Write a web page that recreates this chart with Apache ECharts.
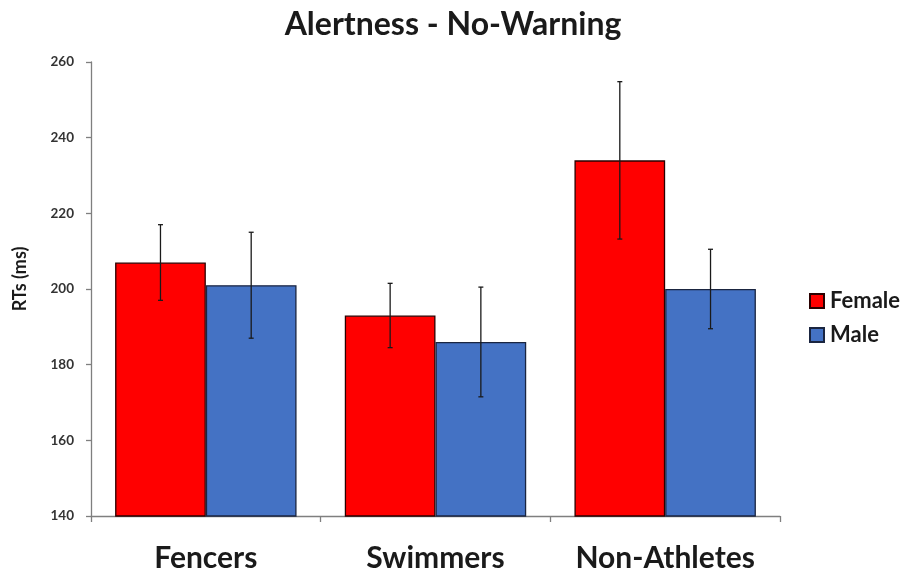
<!DOCTYPE html>
<html>
<head>
<meta charset="utf-8">
<script src="https://cdn.jsdelivr.net/npm/echarts@6/dist/echarts.min.js"></script>
<style>
  html, body { margin: 0; padding: 0; background: #fff; }
  #chart { width: 906px; height: 576px; }
</style>
</head>
<body>
<div id="chart"></div>
<script>
// Group names and mean reaction times with their error margins
const groups = ['Fencers', 'Swimmers', 'Non-Athletes'];
const femaleMeans = [207, 193, 234];
const femaleErrors = [10, 8.5, 20.8];
const maleMeans = [201, 186, 200];
const maleErrors = [14, 14.5, 10.5];
const yTicks = [140, 160, 180, 200, 220, 240, 260];

const FONT = 'Lato';
const BAR_FRACTION = 0.395;

// Error bar drawn over each bar; offset -1 for the left bar, +1 for the right
function errorBarRenderer(offsetSign) {
  return function (params, api) {
    const idx = api.value(0);
    const mean = api.value(1);
    const err = api.value(2);
    const band = api.size([1, 0])[0];
    const bw = band * BAR_FRACTION;
    const center = api.coord([idx, mean]);
    const x = center[0] + offsetSign * bw / 2;
    const top = api.coord([idx, mean + err])[1];
    const bottom = api.coord([idx, mean - err])[1];
    const cap = 2.5;
    const style = { stroke: '#1a1a1a', lineWidth: 1.3 };
    return {
      type: 'group',
      children: [
        { type: 'line', shape: { x1: x, y1: top, x2: x, y2: bottom }, style },
        { type: 'line', shape: { x1: x - cap, y1: top, x2: x + cap, y2: top }, style },
        { type: 'line', shape: { x1: x - cap, y1: bottom, x2: x + cap, y2: bottom }, style }
      ]
    };
  };
}

const chart = echarts.init(document.getElementById('chart'), null, { renderer: 'canvas' });

chart.setOption({
  animation: false,
  backgroundColor: '#ffffff',
  title: {
    text: 'Alertness - No-Warning',
    left: 'center',
    top: 4,
    textStyle: { fontFamily: FONT, fontWeight: 'bold', fontSize: 32, color: '#1a1a1a' }
  },
  legend: {
    orient: 'vertical',
    left: 804,
    top: 285,
    itemGap: 12,
    itemWidth: 14,
    itemHeight: 14,
    icon: 'rect',
    data: ['Female', 'Male'],
    textStyle: { fontFamily: FONT, fontWeight: 'bold', fontSize: 22, color: '#1a1a1a', padding: [0, 0, 0, 1] }
  },
  grid: { left: 91, right: 126, top: 62, bottom: 60 },
  xAxis: {
    type: 'category',
    data: groups,
    axisLine: { lineStyle: { color: '#7f7f7f', width: 1.3 } },
    axisTick: { show: true, interval: 0, length: 6, lineStyle: { color: '#7f7f7f', width: 1.3 } },
    axisLabel: { interval: 0, fontFamily: FONT, fontWeight: 'bold', fontSize: 30, color: '#1a1a1a', margin: 27 }
  },
  yAxis: {
    type: 'value',
    min: yTicks[0],
    max: yTicks[yTicks.length - 1],
    interval: 20,
    name: 'RTs (ms)',
    nameLocation: 'middle',
    nameGap: 62,
    nameTextStyle: { fontFamily: FONT, fontWeight: 'bold', fontSize: 18, color: '#1a1a1a', padding: [0, 0, 0, 20] },
    axisLine: { show: true, lineStyle: { color: '#7f7f7f', width: 1.3 } },
    axisTick: { show: true, length: 5, lineStyle: { color: '#7f7f7f', width: 1.3 } },
    axisLabel: { fontFamily: FONT, fontWeight: 'bold', fontSize: 13.5, color: '#333', margin: 17 },
    splitLine: { show: false }
  },
  series: [
    {
      name: 'Female',
      type: 'bar',
      data: femaleMeans,
      barWidth: (BAR_FRACTION * 100) + '%',
      barGap: '0%',
      itemStyle: { color: '#ff0000', borderColor: '#2a0000', borderWidth: 1.3 }
    },
    {
      name: 'Male',
      type: 'bar',
      data: maleMeans,
      barWidth: (BAR_FRACTION * 100) + '%',
      barGap: '0%',
      itemStyle: { color: '#4472c4', borderColor: '#1a2540', borderWidth: 1.3 }
    },
    {
      type: 'custom',
      renderItem: errorBarRenderer(-1),
      data: groups.map((g, i) => [i, femaleMeans[i], femaleErrors[i]]),
      z: 10,
      silent: true
    },
    {
      type: 'custom',
      renderItem: errorBarRenderer(1),
      data: groups.map((g, i) => [i, maleMeans[i], maleErrors[i]]),
      z: 10,
      silent: true
    }
  ]
});
</script>
</body>
</html>
